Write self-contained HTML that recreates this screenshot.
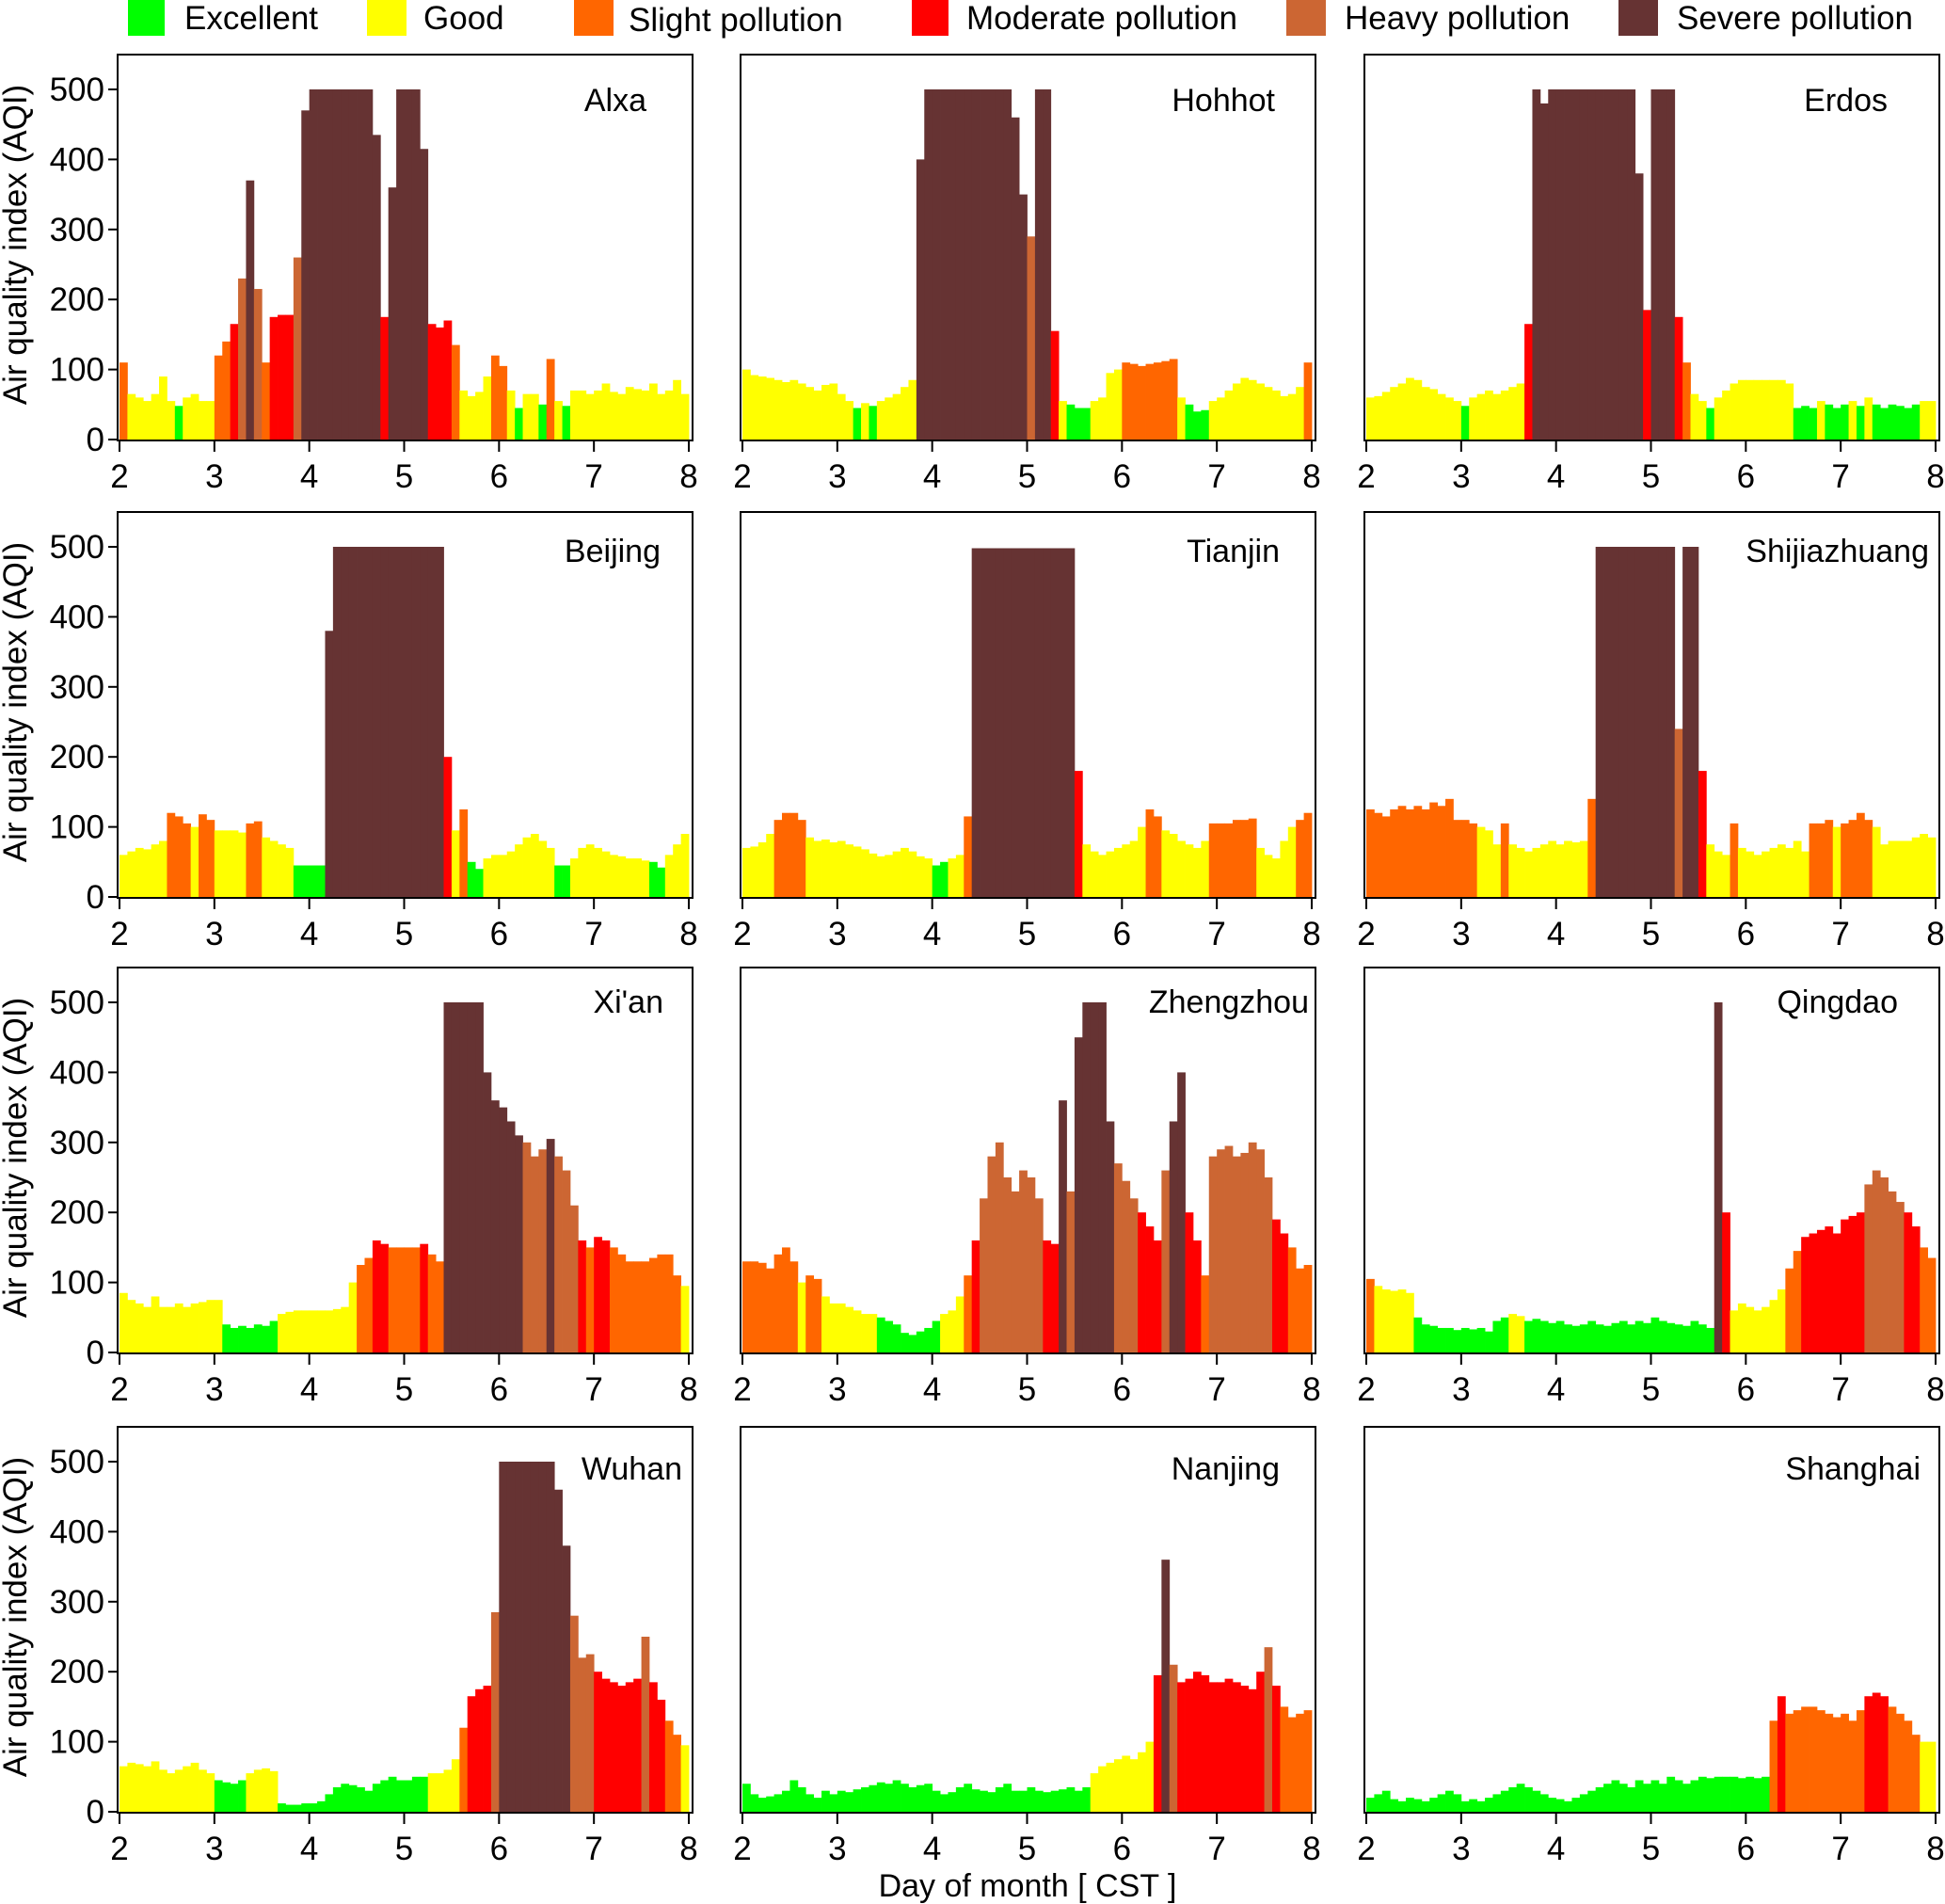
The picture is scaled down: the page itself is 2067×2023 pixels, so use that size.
<!DOCTYPE html>
<html><head><meta charset="utf-8">
<style>
html,body{margin:0;padding:0;background:#fff;}
svg{display:block;font-family:"Liberation Sans",Arial,sans-serif;}
</style></head>
<body>
<svg id="chart" width="2067" height="2023" viewBox="0 0 2067 2023" xmlns="http://www.w3.org/2000/svg">
<g id="legend">
  <g><rect x="136" y="0" width="39" height="38" fill="#00ff00"/><text x="196" y="31" font-size="35">Excellent</text></g>
  <g><rect x="390" y="0" width="42" height="38" fill="#ffff00"/><text x="450" y="31" font-size="35">Good</text></g>
  <g><rect x="610" y="0" width="42" height="38" fill="#ff6600"/><text x="668" y="33" font-size="35">Slight pollution</text></g>
  <g><rect x="969" y="0" width="39" height="38" fill="#ff0000"/><text x="1027" y="31" font-size="35">Moderate pollution</text></g>
  <g><rect x="1367" y="0" width="42" height="38" fill="#cc6633"/><text x="1429" y="31" font-size="35">Heavy pollution</text></g>
  <g><rect x="1720" y="0" width="42" height="38" fill="#663333"/><text x="1782" y="31" font-size="35">Severe pollution</text></g>
</g>
<g id="panels"></g>
<text x="1092" y="2015" font-size="34" text-anchor="middle">Day of month [ CST ]</text>
</svg>
<script>
const cities = ["Alxa","Hohhot","Erdos","Beijing","Tianjin","Shijiazhuang","Xi'an","Zhengzhou","Qingdao","Wuhan","Nanjing","Shanghai"];
const xTicks = [2,3,4,5,6,7,8];
const yTicks = [0,100,200,300,400,500];
const startDay = 2;
const binsPerDay = 12;
const alxa = [110,65,60,55,65,90,55,48,60,65,55,55, 120,140,165,230,370,215,110,175,178,178,260,470, 500,500,500,500,500,500,500,500,435,175,360,500, 500,500,415,165,160,170,135,70,62,68,90,120, 105,70,45,65,65,50,115,55,48,70,70,65, 70,80,68,65,75,72,70,80,65,70,85,65];
const hohhot = [100,92,90,88,85,82,85,80,75,70,78,80, 65,55,45,52,48,55,60,65,75,85,400,500, 500,500,500,500,500,500,500,500,500,500,460,350, 290,500,500,155,55,50,45,45,55,60,95,100, 110,108,105,108,110,112,115,60,50,40,42,55, 60,70,80,88,85,80,75,70,62,65,75,110];
const erdos = [60,62,68,75,80,88,85,75,72,65,60,55, 48,60,65,70,65,70,75,80,165,500,480,500, 500,500,500,500,500,500,500,500,500,500,380,185, 500,500,500,175,110,65,55,45,60,70,80,85, 85,85,85,85,85,80,45,48,45,55,50,45, 50,55,48,60,50,45,50,48,45,50,55,55];
const beijing = [60,65,70,68,75,80,120,115,105,100,118,110, 95,95,95,92,105,108,85,80,75,70,45,45, 45,45,380,500,500,500,500,500,500,500,500,500, 500,500,500,500,500,200,95,125,50,40,55,60, 60,65,75,85,90,80,70,45,45,55,70,75, 70,65,60,58,55,55,52,50,42,60,75,90];
const tianjin = [70,72,78,90,110,120,120,110,85,80,82,78, 80,75,72,68,62,58,60,65,70,65,58,55, 45,50,55,60,115,498,498,498,498,498,498,498, 498,498,498,498,498,498,180,75,65,60,65,70, 75,80,100,125,115,95,90,80,75,70,80,105, 105,105,110,110,112,70,60,55,80,100,110,120];
const shijiazhuang = [125,120,115,125,130,125,130,125,135,130,140,110, 110,105,100,95,75,105,75,70,65,70,75,80, 75,80,78,80,140,500,500,500,500,500,500,500, 500,500,500,240,500,500,180,75,65,60,105,70, 65,60,65,70,75,70,80,65,105,105,110,100, 105,110,120,110,100,75,80,80,80,85,90,85];
const xian = [85,75,70,65,80,65,65,70,65,70,72,75, 75,40,35,38,35,40,38,45,55,58,60,60, 60,60,60,62,65,100,125,135,160,155,150,150, 150,150,155,140,130,500,500,500,500,500,400,360, 350,330,310,300,280,290,305,280,260,210,160,150, 165,160,150,140,130,130,130,135,140,140,110,95];
const zhengzhou = [130,130,128,120,140,150,130,100,110,105,80,70, 70,65,60,55,55,50,45,40,28,25,30,35, 45,55,60,80,110,160,220,280,300,250,230,260, 250,220,160,155,360,230,450,500,500,500,330,270, 245,220,200,180,160,260,330,400,200,160,110,280, 290,295,280,285,300,290,250,190,170,150,120,125];
const qingdao = [105,95,90,88,90,85,50,40,38,35,35,32, 35,33,35,30,45,50,55,52,45,48,45,42, 45,40,38,40,45,40,38,42,45,40,45,42, 50,45,42,40,38,45,40,35,500,200,60,70, 65,60,65,75,90,120,145,165,170,175,180,170, 190,195,200,240,260,250,230,215,200,180,150,135];
const wuhan = [65,70,68,65,72,60,55,60,65,70,60,55, 45,42,40,45,55,60,62,58,12,10,10,12, 12,15,25,35,40,38,35,30,40,45,50,45, 45,50,50,55,55,60,75,120,165,175,180,285, 500,500,500,500,500,500,500,460,380,280,220,225, 200,190,185,180,185,190,250,185,160,130,110,95];
const nanjing = [40,25,20,22,25,30,45,35,25,20,30,25, 30,28,32,35,38,42,40,45,40,35,38,40, 30,25,28,35,40,32,30,28,35,40,30,30, 35,30,28,30,32,35,30,35,55,65,70,75, 80,75,85,100,195,360,210,185,190,200,195,185, 185,190,185,180,175,200,235,180,150,135,140,145];
const shanghai = [20,25,30,18,15,20,18,15,20,25,30,25, 15,18,15,20,25,30,35,40,35,30,25,20, 18,15,20,25,30,35,40,45,40,35,45,40, 45,40,50,45,40,45,50,48,50,50,50,48, 50,48,50,130,165,140,145,150,150,145,140,135, 140,130,145,165,170,165,150,140,130,110,100,100];
const seriesList = [alxa,hohhot,erdos,beijing,tianjin,shijiazhuang,xian,zhengzhou,qingdao,wuhan,nanjing,shanghai];

const NS = "http://www.w3.org/2000/svg";
const colLefts = [125, 787, 1450];
const rowTops = [58, 544, 1028, 1516];
const labelRight = [562,568,556,577,573,600,580,604,567,600,573,591];
const labelBase = [60,53,48,56];
const PW = 611, PH = 410;
function colorFor(v){
  if (v <= 50) return "#00ff00";
  if (v <= 100) return "#ffff00";
  if (v <= 150) return "#ff6600";
  if (v <= 200) return "#ff0000";
  if (v <= 300) return "#cc6633";
  return "#663333";
}
function mk(tag, attrs){ const e = document.createElementNS(NS, tag); for (const k in attrs) e.setAttribute(k, attrs[k]); return e; }
const root = document.getElementById("panels");
cities.forEach((city, ci) => {
  const row = Math.floor(ci / 3);
  const L = colLefts[ci % 3], T = rowTops[row];
  const zeroY = T + PH - 1;
  const xs = d => L + 2 + (d - 2) * (605 / 6);
  const ys = v => zeroY - v * (372 / 500);
  const g = mk("g", {});
  
  
  const data = seriesList[ci];
  data.forEach((v, i) => {
    const d0 = startDay + i / binsPerDay, d1 = startDay + (i + 1) / binsPerDay;
    const x0 = xs(d0), x1 = xs(d1);
    const r = mk("rect", {x: x0.toFixed(2), y: ys(v).toFixed(2), width: (x1 - x0 + 0.4).toFixed(2), height: (zeroY - ys(v)).toFixed(2), fill: colorFor(v)});
    
    
    g.appendChild(r);
  });
  const box = mk("rect", {x: L, y: T, width: PW, height: PH, fill: "none", stroke: "#000", "stroke-width": 2});
  
  
  g.appendChild(box);
  xTicks.forEach(t => {
    const x = xs(t);
    const tk = mk("line", {x1: x, x2: x, y1: T + PH, y2: T + PH + 12, stroke: "#000", "stroke-width": 2});
    
    
    g.appendChild(tk);
    const lb = mk("text", {x: x, y: T + PH + 50, "font-size": 35, "text-anchor": "middle"});
    
    
    lb.textContent = t;
    g.appendChild(lb);
  });
  if (ci % 3 === 0) {
    yTicks.forEach(t => {
      const y = ys(t);
      const tk = mk("line", {x1: L - 10, x2: L, y1: y, y2: y, stroke: "#000", "stroke-width": 2});
      
      
      g.appendChild(tk);
      const lb = mk("text", {x: L - 14, y: y + 12, "font-size": 35, "text-anchor": "end"});
      
      
      lb.textContent = t;
      g.appendChild(lb);
    });
    const cy = T + PH / 2 - 3;
    const yt = mk("text", {x: 28, y: cy, "font-size": 35, "text-anchor": "middle", transform: "rotate(-90 28 " + cy + ")"});
    
    
    yt.textContent = "Air quality index (AQI)";
    g.appendChild(yt);
  }
  const cl = mk("text", {x: L + labelRight[ci], y: T + labelBase[row], "font-size": 34, "text-anchor": "end"});
  
  
  cl.textContent = city;
  g.appendChild(cl);
  root.appendChild(g);
});
</script>
</body></html>
